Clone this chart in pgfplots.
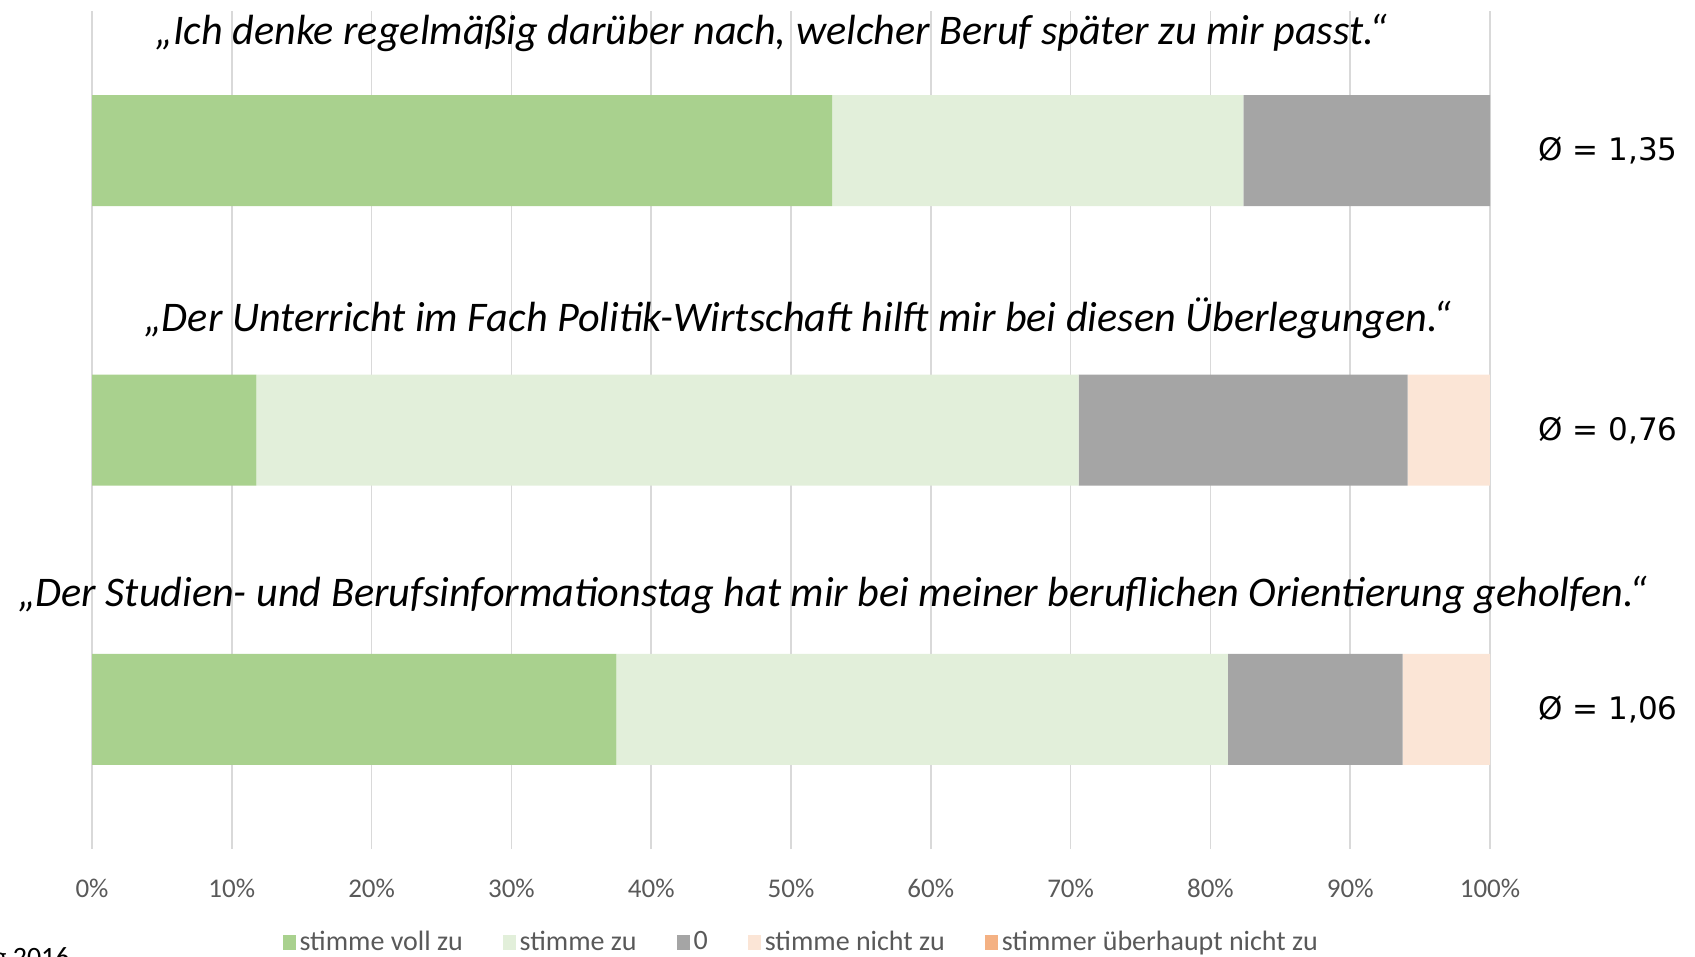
\documentclass[border=0pt]{standalone}
\usepackage{pgfplots}
\pgfplotsset{compat=1.18}
\usepackage{fontspec}
\setmainfont{Carlito}
\newfontfamily\dejavu{DejaVu Sans}
\definecolor{cVoll}{HTML}{A9D18E}
\definecolor{cZu}{HTML}{E2EFDA}
\definecolor{cNull}{HTML}{A5A5A5}
\definecolor{cNicht}{HTML}{FBE5D6}
\definecolor{cUeber}{HTML}{F4B183}
\definecolor{cTick}{HTML}{595959}
\definecolor{cGrid}{HTML}{D9D9D9}
\begin{document}
\begin{tikzpicture}
\path[use as bounding box] (0,0) rectangle (847.5pt,-478.5pt);
\begin{axis}[
  at={(46pt,-5.5pt)}, anchor=north west,
  scale only axis, width=699pt, height=419pt,
  xbar stacked, bar width=55.5pt,
  xmin=0, xmax=100, ymin=0.5, ymax=3.5, y dir=reverse,
  ytick=\empty,
  xtick={0,10,...,100},
  xticklabel={\pgfmathprintnumber{\tick}\%},
  /pgf/number format/assume math mode=true,
  xticklabel style={anchor=center, yshift=-19.5pt, font=\fontsize{13.5}{16}\selectfont, text=cTick},
  xmajorgrids, major grid style={cGrid, line width=0.75pt},
  axis line style={draw=none}, tick style={draw=none},
  clip=false,
  legend columns=5,
  legend style={at={(0.508,-0.111)}, anchor=center, draw=none, fill=none,
    font=\fontsize{14}{16}\selectfont, text=cTick,
    /tikz/every even column/.append style={column sep=18pt},
    /tikz/every odd column/.append style={column sep=0pt}},
  legend image code/.code={\fill[#1] (-3pt,-3.75pt) rectangle (3.5pt,3.75pt);},
]
\addplot[fill=cVoll, draw=none] coordinates {(52.94,1) (11.76,2) (37.5,3)};
\addlegendentry{stimme voll zu}
\addplot[fill=cZu, draw=none] coordinates {(29.41,1) (58.82,2) (43.75,3)};
\addlegendentry{stimme zu}
\addplot[fill=cNull, draw=none] coordinates {(17.65,1) (23.53,2) (12.5,3)};
\addlegendentry{0}
\addplot[fill=cNicht, draw=none] coordinates {(0,1) (5.88,2) (6.25,3)};
\addlegendentry{stimme nicht zu}
\addplot[fill=cUeber, draw=none] coordinates {(0,1) (0,2) (0,3)};
\addlegendentry{stimmer überhaupt nicht zu}

\node[font=\itshape\fontsize{21.1}{25}\selectfont] at (axis cs:48.6,0.58) {„Ich denke regelmäßig darüber nach, welcher Beruf später zu mir passt.“};
\node[font=\itshape\fontsize{21.1}{25}\selectfont] at (axis cs:50.5,1.60) {„Der Unterricht im Fach Politik-Wirtschaft hilft mir bei diesen Überlegungen.“};
\node[font=\itshape\fontsize{21.1}{25}\selectfont] at (axis cs:53.0,2.59) {„Der Studien- und Berufsinformationstag hat mir bei meiner beruflichen Orientierung geholfen.“};

\node[font=\dejavu\fontsize{15.5}{18}\selectfont, xshift=59pt] at (axis cs:100,1) {Ø = 1,35};
\node[font=\dejavu\fontsize{15.5}{18}\selectfont, xshift=59pt] at (axis cs:100,2) {Ø = 0,76};
\node[font=\dejavu\fontsize{15.5}{18}\selectfont, xshift=59pt] at (axis cs:100,3) {Ø = 1,06};
\end{axis}
\node[anchor=base east, inner sep=0pt, font=\fontsize{14}{16}\selectfont] at (35pt,-483pt) {Befragung 2016};
\end{tikzpicture}
\end{document}
